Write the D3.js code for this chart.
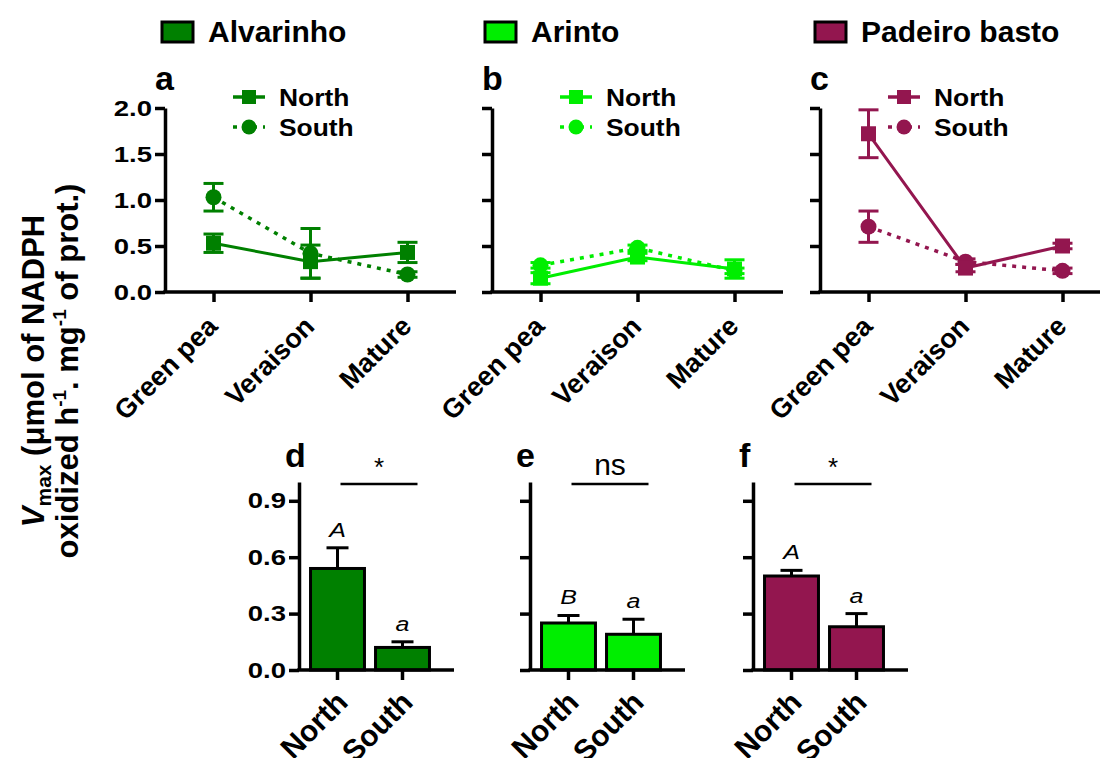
<!DOCTYPE html>
<html lang="en">
<head>
<meta charset="utf-8">
<script src="https://d3js.org/d3.v7.min.js"></script>
<style>
  body { margin: 0; background: #fff; }
  text { font-family: "Liberation Sans", Arial, sans-serif; }
</style>
</head>
<body>
<div id="my_dataviz"></div>
<script>
// ---- data ----
var cultivars = ["Alvarinho", "Arinto", "Padeiro basto"];
var stages = ["Green pea", "Veraison", "Mature"];
var sites = ["North", "South"];

// panels a-c : mean and error per ripening stage
var northMean = [[0.53, 0.33, 0.43], [0.15, 0.38, 0.25], [1.72, 0.26, 0.50]];
var northErr  = [[0.10, 0.18, 0.11], [0.06, 0.04, 0.10], [0.26, 0.04, 0.03]];
var southMean = [[1.03, 0.42, 0.19], [0.29, 0.48, 0.23], [0.71, 0.33, 0.23]];
var southErr  = [[0.15, 0.27, 0.03], [0.03, 0.03, 0.03], [0.17, 0.03, 0.03]];
var lineTicks = [0, 0.5, 1.0, 1.5, 2.0];

// panels d-f : North vs South
var barMean = [[0.54, 0.12], [0.25, 0.19], [0.50, 0.23]];
var barErr  = [[0.11, 0.03], [0.04, 0.08], [0.03, 0.07]];
var barLetters = [["A", "a"], ["B", "a"], ["A", "a"]];
var sigLabels = ["*", "ns", "*"];
var barTicks = [0, 0.3, 0.6, 0.9];

var topLetters = ["a", "b", "c"];
var bottomLetters = ["d", "e", "f"];
var colors = ["#008000", "#00ee00", "#93164f"];

// ---- layout ----
var svg = d3.select("#my_dataviz")
  .append("svg")
  .attr("width", 1100)
  .attr("height", 758)

var AX = 3.5;   // axis stroke
var lineX0 = [165, 492, 820], lineW = 291;
var barX0 = [299, 530, 753], barW = 155;

var yLine = d3.scaleLinear().domain([0, 2]).range([292, 108]);
var yBar = d3.scaleLinear().domain([0, 1]).range([670, 482]);

function styleAxis(g) {
  g.select(".domain").attr("stroke", "black").attr("stroke-width", AX);
  g.selectAll(".tick line").attr("stroke", "black").attr("stroke-width", AX);
}

function yTickLabels(g) {
  g.selectAll(".tick text")
    .attr("font-size", "22px")
    .attr("font-weight", "bold")
    .attr("fill", "black")
    .attr("x", -13 / 1.25)
    .attr("transform", "scale(1.25,1)");
}

function rotatedLabels(g, dx, dy, size) {
  g.selectAll(".tick text")
    .attr("x", 0).attr("y", 0).attr("dy", 0)
    .attr("text-anchor", "end")
    .attr("font-size", size)
    .attr("font-weight", "bold")
    .attr("fill", "black")
    .attr("transform", "translate(" + dx + "," + dy + ") rotate(-45)");
}

// ---- top legend ----
var legX = [162, 485, 815];
cultivars.forEach(function(c, i) {
  svg.append("rect")
    .attr("x", legX[i]).attr("y", 22).attr("width", 31).attr("height", 20)
    .attr("fill", colors[i]).attr("stroke", "black").attr("stroke-width", 3);
  svg.append("text")
    .attr("x", legX[i] + 46).attr("y", 42)
    .attr("font-size", "30px").attr("font-weight", "bold")
    .text(c);
});

// ---- y axis title ----
var ttl = svg.append("text")
  .attr("transform", "translate(44,371) rotate(-90)")
  .attr("text-anchor", "middle")
  .attr("font-size", "31px").attr("font-weight", "bold");
ttl.append("tspan").attr("font-style", "italic").text("V");
ttl.append("tspan").attr("font-size", "21px").attr("dy", "7").text("max");
ttl.append("tspan").attr("dy", "-7").text(" (\u03bcmol of NADPH");

var ttl2 = svg.append("text")
  .attr("transform", "translate(78,371) rotate(-90)")
  .attr("text-anchor", "middle")
  .attr("font-size", "31px").attr("font-weight", "bold");
ttl2.append("tspan").text("oxidized h");
ttl2.append("tspan").attr("font-size", "19px").attr("dy", "-12").text("-1");
ttl2.append("tspan").attr("dy", "12").text(". mg");
ttl2.append("tspan").attr("font-size", "19px").attr("dy", "-12").text("-1");
ttl2.append("tspan").attr("dy", "12").text(" of prot.)");

// ---- panels a-c ----
cultivars.forEach(function(c, i) {
  var x0 = lineX0[i];
  var col = colors[i];
  var x = d3.scalePoint().domain(stages).range([x0, x0 + lineW]).padding(0.5);
  var g = svg.append("g");

  // y axis
  var ya = g.append("g")
    .attr("transform", "translate(" + x0 + ",0)")
    .call(d3.axisLeft(yLine).tickValues(lineTicks).tickSize(10).tickSizeOuter(0)
      .tickFormat(i == 0 ? d3.format(".1f") : ""));
  styleAxis(ya);
  yTickLabels(ya);

  // x axis
  g.append("line")
    .attr("x1", x0 - AX / 2).attr("x2", x0 + lineW)
    .attr("y1", yLine(0)).attr("y2", yLine(0))
    .attr("stroke", "black").attr("stroke-width", AX);
  var xa = g.append("g")
    .attr("transform", "translate(0," + yLine(0) + ")")
    .call(d3.axisBottom(x).tickSize(10).tickSizeOuter(0));
  xa.select(".domain").remove();
  styleAxis(xa);
  rotatedLabels(xa, 5, 36, "27px");

  var series = [
    {mean: southMean[i], err: southErr[i], dash: "4,6", shape: "circle"},
    {mean: northMean[i], err: northErr[i], dash: null, shape: "square"}
  ];

  var line = d3.line()
    .x(function(d, k) { return x(stages[k]); })
    .y(function(d) { return yLine(d); });

  series.forEach(function(s) {
    g.append("path")
      .datum(s.mean)
      .attr("d", line)
      .attr("fill", "none")
      .attr("stroke", col)
      .attr("stroke-width", s.dash ? 3.5 : 3)
      .attr("stroke-dasharray", s.dash);

    s.mean.forEach(function(m, k) {
      var cx = x(stages[k]);
      var lo = yLine(m - s.err[k]), hi = yLine(m + s.err[k]);
      g.append("line").attr("x1", cx).attr("x2", cx).attr("y1", lo).attr("y2", hi)
        .attr("stroke", col).attr("stroke-width", 3);
      [lo, hi].forEach(function(yy) {
        g.append("line").attr("x1", cx - 10).attr("x2", cx + 10).attr("y1", yy).attr("y2", yy)
          .attr("stroke", col).attr("stroke-width", 3);
      });
      if (s.shape == "circle") {
        g.append("circle").attr("cx", cx).attr("cy", yLine(m)).attr("r", 8).attr("fill", col);
      } else {
        g.append("rect").attr("x", cx - 7.5).attr("y", yLine(m) - 7.5)
          .attr("width", 15).attr("height", 15).attr("fill", col);
      }
    });
  });

  // panel legend
  var lx = x0 + 68;
  [["North", 97, null], ["South", 127, "4,6"]].forEach(function(e) {
    g.append("line").attr("x1", lx).attr("x2", lx + 32).attr("y1", e[1]).attr("y2", e[1])
      .attr("stroke", col).attr("stroke-width", 3.5).attr("stroke-dasharray", e[2]);
    if (e[0] == "North") {
      g.append("rect").attr("x", lx + 9).attr("y", e[1] - 7).attr("width", 14).attr("height", 14).attr("fill", col);
    } else {
      g.append("circle").attr("cx", lx + 16).attr("cy", e[1]).attr("r", 7.5).attr("fill", col);
    }
    g.append("text")
      .attr("x", (lx + 46) / 1.1).attr("y", e[1])
      .attr("transform", "scale(1.1,1)")
      .attr("dominant-baseline", "central")
      .attr("font-size", "24px").attr("font-weight", "bold")
      .text(e[0]);
  });

  // panel letter
  g.append("text")
    .attr("x", x0 - 10).attr("y", 90)
    .attr("font-size", "34px").attr("font-weight", "bold")
    .text(topLetters[i]);
});

// ---- panels d-f ----
cultivars.forEach(function(c, i) {
  var x0 = barX0[i];
  var col = colors[i];
  var x = d3.scaleBand().domain(sites).range([x0 + 6, x0 + 136])
    .paddingInner(0.17).paddingOuter(0.085);
  var g = svg.append("g");

  var ya = g.append("g")
    .attr("transform", "translate(" + x0 + ",0)")
    .call(d3.axisLeft(yBar).tickValues(barTicks).tickSize(10).tickSizeOuter(0)
      .tickFormat(i == 0 ? d3.format(".1f") : ""));
  styleAxis(ya);
  yTickLabels(ya);

  // bars
  sites.forEach(function(s, k) {
    var m = barMean[i][k], e = barErr[i][k];
    var cx = x(s) + x.bandwidth() / 2;
    g.append("line").attr("x1", cx).attr("x2", cx)
      .attr("y1", yBar(m)).attr("y2", yBar(m + e))
      .attr("stroke", "black").attr("stroke-width", 3);
    g.append("line").attr("x1", cx - 11).attr("x2", cx + 11)
      .attr("y1", yBar(m + e)).attr("y2", yBar(m + e))
      .attr("stroke", "black").attr("stroke-width", 3);
    g.append("rect")
      .attr("x", x(s)).attr("y", yBar(m))
      .attr("width", x.bandwidth()).attr("height", yBar(0) - yBar(m))
      .attr("fill", col).attr("stroke", "black").attr("stroke-width", 3);
    g.append("text")
      .attr("x", cx / 1.25).attr("y", yBar(m + e) - 11)
      .attr("transform", "scale(1.25,1)")
      .attr("text-anchor", "middle")
      .attr("font-size", "20px").attr("font-style", "italic")
      .text(barLetters[i][k]);
  });

  // x axis
  g.append("line")
    .attr("x1", x0 - AX / 2).attr("x2", x0 + barW)
    .attr("y1", yBar(0)).attr("y2", yBar(0))
    .attr("stroke", "black").attr("stroke-width", AX);
  var xa = g.append("g")
    .attr("transform", "translate(0," + yBar(0) + ")")
    .call(d3.axisBottom(x).tickSize(10).tickSizeOuter(0));
  xa.select(".domain").remove();
  styleAxis(xa);
  rotatedLabels(xa, 12, 34, "30px");

  // significance
  var xn = x("North") + x.bandwidth() / 2, xs = x("South") + x.bandwidth() / 2;
  g.append("line")
    .attr("x1", xn + 3).attr("x2", xs + 15)
    .attr("y1", 484).attr("y2", 484)
    .attr("stroke", "black").attr("stroke-width", 2.5);
  var sig = sigLabels[i];
  g.append("text")
    .attr("x", (xn + xs + 18) / 2)
    .attr("y", sig == "*" ? 476 : 475)
    .attr("text-anchor", "middle")
    .attr("font-size", sig == "*" ? "26px" : "30px")
    .text(sig);

  g.append("text")
    .attr("x", x0 - 14).attr("y", 467)
    .attr("font-size", "34px").attr("font-weight", "bold")
    .text(bottomLetters[i]);
});
</script>
</body>
</html>
